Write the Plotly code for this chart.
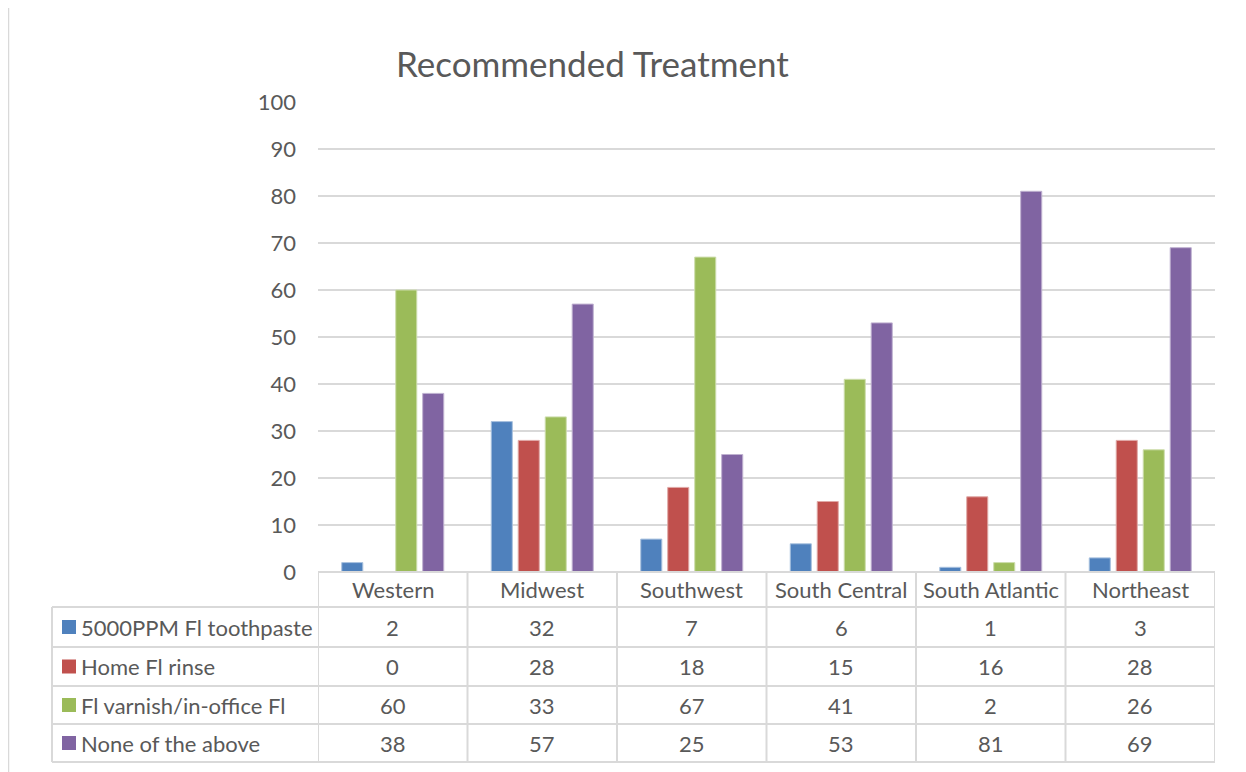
import plotly.graph_objects as go

categories = ["Western", "Midwest", "Southwest", "South Central", "South Atlantic", "Northeast"]
series_names = ["5000PPM Fl toothpaste", "Home Fl rinse", "Fl varnish/in-office Fl", "None of the above"]
toothpaste = [2, 32, 7, 6, 1, 3]
rinse = [0, 28, 18, 15, 16, 28]
varnish = [60, 33, 67, 41, 2, 26]
none_above = [38, 57, 25, 53, 81, 69]
colors = ["#4F81BD", "#C0504D", "#9BBB59", "#8064A2"]
line_colors = ["#A7C0DE", "#E0A8A6", "#CDDDAC", "#BFB1D0"]
y_ticks = [0, 10, 20, 30, 40, 50, 60, 70, 80, 90, 100]
title_text = "Recommended Treatment"

series_values = [toothpaste, rinse, varnish, none_above]

# The page body has an 8px default margin; work in screen pixels and offset.
OFF = 8
W, H = 1246 - OFF, 772 - OFF
L, R, T, B = 318 - OFF, 1215 - OFF, 102 - OFF, 572 - OFF
PW, PH = R - L, B - T
FONT = "Lato"
TXT = "#595959"
GRID = "#D9D9D9"

def py(p):  # screen pixel y -> paper y
    return (B - (p - OFF)) / PH

def px(p):  # screen pixel x -> paper x
    return ((p - OFF) - L) / PW

fig = go.Figure()
for name, vals, c, lc in zip(series_names, series_values, colors, line_colors):
    fig.add_trace(go.Bar(x=categories, y=vals, name=name,
                         marker=dict(color=c, line=dict(color=lc, width=1))))

shapes = []
annotations = []
row_edges = [607, 647, 686, 724, 762]
shapes.append(dict(type="line", xref="paper", yref="paper", x0=0, x1=1, y0=py(572), y1=py(572),
                   line=dict(color=GRID, width=2)))
for e in row_edges:
    shapes.append(dict(type="line", xref="paper", yref="paper", x0=px(52), x1=1, y0=py(e), y1=py(e),
                       line=dict(color=GRID, width=2)))
shapes.append(dict(type="line", xref="paper", yref="paper", x0=px(52), x1=px(52),
                   y0=py(607), y1=py(762), line=dict(color=GRID, width=2)))
for k in range(len(categories) + 1):
    shapes.append(dict(type="line", xref="x", yref="paper", x0=k - 0.5, x1=k - 0.5,
                       y0=py(572), y1=py(762), line=dict(color=GRID, width=2)))
# outer chart frame (left / right edges)
for xe in (8.5, 1243):
    shapes.append(dict(type="line", xref="paper", yref="paper", x0=px(xe), x1=px(xe),
                       y0=py(8), y1=py(790), line=dict(color=GRID, width=1.5)))

FS = 22
for c in categories:
    annotations.append(dict(x=c, xref="x", y=py(589.5), yref="paper", text=c, showarrow=False,
                            xanchor="center", yanchor="middle", font=dict(family=FONT, size=FS, color=TXT)))
for i, (name, vals, col) in enumerate(zip(series_names, series_values, colors)):
    yc = py((row_edges[i] + row_edges[i + 1]) / 2)
    shapes.append(dict(type="rect", xref="paper", yref="paper", x0=px(62), x1=px(76),
                       y0=yc - 7 / PH, y1=yc + 7 / PH, fillcolor=col, line=dict(width=0)))
    annotations.append(dict(x=px(79), xref="paper", y=yc, yref="paper", text=name, showarrow=False,
                            xanchor="left", yanchor="middle", font=dict(family=FONT, size=FS, color=TXT)))
    for c, v in zip(categories, vals):
        annotations.append(dict(x=c, xref="x", y=yc, yref="paper", text=str(v), showarrow=False,
                                xanchor="center", yanchor="middle", font=dict(family=FONT, size=FS, color=TXT)))

annotations.append(dict(x=px(592), xref="paper", y=py(63), yref="paper", text=title_text, showarrow=False,
                        xanchor="center", yanchor="middle", font=dict(family=FONT, size=35, color=TXT)))

fig.update_layout(
    width=W, height=H,
    margin=dict(l=L, r=W - R, t=T, b=H - B),
    paper_bgcolor="white", plot_bgcolor="white",
    barmode="group", bargap=0.278, bargroupgap=0.22,
    showlegend=False,
    shapes=shapes, annotations=annotations,
    xaxis=dict(showticklabels=False, showgrid=False, zeroline=False, range=[-0.5, 5.5], fixedrange=True),
    yaxis=dict(range=[0, 100], tickvals=y_ticks, showgrid=True, gridcolor=GRID, gridwidth=2,
               zeroline=False, showline=False, ticklabelstandoff=21,
               tickfont=dict(family=FONT, size=FS, color=TXT)),
    font=dict(family=FONT, color=TXT),
)

fig.write_html("out.html")
